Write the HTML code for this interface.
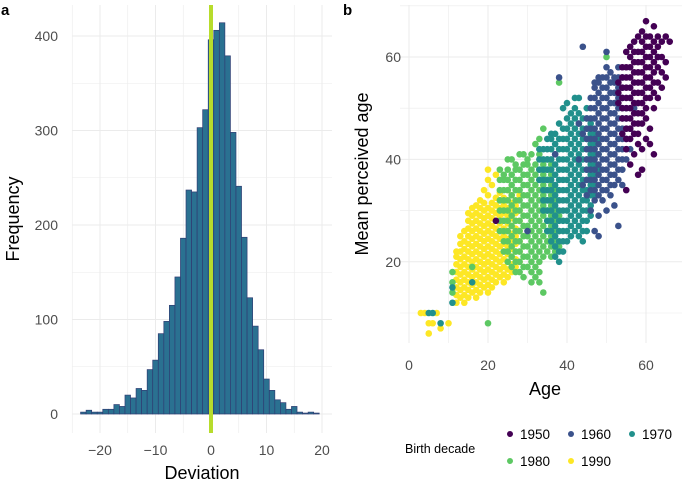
<!DOCTYPE html>
<html><head><meta charset="utf-8"><style>
body{margin:0;background:#fff;}
svg{display:block;font-family:"Liberation Sans",Arial,sans-serif;}
</style></head><body>
<svg id="c" width="685" height="481" viewBox="0 0 685 481">
<g id="pa"></g>
<g id="pb"></g>
</svg>
<script>
// ---------- Panel a data ----------
const binCenters = [-23,-22,-21,-20,-19,-18,-17,-16,-15,-14,-13,-12,-11,-10,-9,-8,-7,-6,-5,-4,-3,-2,-1,0,1,2,3,4,5,6,7,8,9,10,11,12,13,14,15,16,17,18,19];
const binCounts = [2,4,2,2,5,5,10,8,20,17,27,25,47,57,85,98,115,145,186,237,235,303,322,396,406,414,379,298,241,187,123,93,68,37,25,15,12,5,8,2,1,2,1];
const devTicks = [-20,-10,0,10,20];
const freqTicks = [0,100,200,300,400];
const refLine = 0;

// ---------- Panel b data ----------
const decades = ["1950","1960","1970","1980","1990"];
const decadeColors = ["#440154","#3B528B","#21908C","#5DC863","#FDE725"];
const ageTicks = [0,20,40,60];
const percTicks = [20,40,60];
// [age, [perceived ages...]]
const d1990 = [[3,[10]],[4,[10]],[5,[8,6]],[6,[8]],[7,[10]],[8,[7]],[10,[8]],
[12,[12,13.5,15,16.5,18,19.5,21,22]],[13,[13,14.5,16,17.5,19,20.5,22,23.5,25]],[14,[12,13.5,15,16.5,18,19.5,21,22.5,24,26]],
[15,[13,14.5,16,17.5,19,20.5,22,23.5,25,26.5,28,29.5]],[16,[14,15.5,17,18.5,20,21.5,23,24.5,26,27.5,29,30.5]],[17,[13,14.5,16,17.5,19,20.5,22,23.5,25,26.5,28,29.5,31]],
[18,[14,15.5,17,18.5,20,21.5,23,24.5,26,27.5,29,30.5,32]],[19,[15,16.5,18,19.5,21,22.5,24,25.5,27,28.5,30,31.5,34]],[20,[14,15.5,17,18.5,20,21.5,23,24.5,26,27.5,29,30.5,33,36,38]],
[21,[15,16.5,18,19.5,21,22.5,24,25.5,27,28.5,30,31.5,35]],[22,[16,17.5,19,20.5,22,23.5,25,26.5,28,29.5,31,32.5,37]],[23,[17,18.5,20,21.5,23,24.5,26,27.5,29,30.5,32,33.5]],
[24,[16,17.5,19,20.5,22,23.5,25,26.5,28,29.5,31,32.5]],[25,[17,18.5,20,21.5,23,24.5,26,27.5,29,30.5,32,34]],[26,[18,19.5,21,22.5,24,25.5,27,28.5,30,31.5,33]],
[27,[19,20.5,22,23.5,25,26.5,28,29.5,31]],[28,[20,22,24,26,28,30,33]]];
const d1980 = [[11,[14,16,18]],[16,[19]],[20,[8]],[23,[26,28,30,32,34,36,38]],[24,[22,24,26,28,30,32,34,36,37]],
[25,[20,22,24,26,28,30,32,34,36,38,40]],[26,[19,21,23,25,27,29,31,33,35,37,40]],[27,[18,20,22,24,26,28,30,32,34,36,38,39]],
[28,[18,20,22,24,26,28,30,32,34,36,38,41]],[29,[17,19,21,23,25,27,29,31,33,35,37,39,41]],[30,[19,21,23,25,27,29,31,33,35,37,39,40]],
[31,[16,18,20,22,24,26,28,30,32,34,36,38,41]],[32,[17,19,21,23,25,27,29,31,33,35,37,39,43]],[33,[16,18,20,22,24,26,28,30,32,34,36,38,41,44]],
[34,[14,21,23,25,27,29,31,33,35,37,39,46]],[35,[22,24,26,28,30,32,34,36,38,40]],[36,[21,23,25,27,29,31,33,35,37,39]],
[37,[22,24,26,28,30,32,34]],[38,[23,26,29,55]],[50,[60]]];
const d1970 = [[5,[10]],[6,[10]],[8,[8]],[11,[12,15]],[16,[16]],[33,[36,38,40,42]],[34,[30,32,34,36,38,40,42]],
[35,[26,28,30,32,34,36,38,40,42,44]],[36,[24,26,28,30,32,34,36,38,40,42,44,45]],[37,[21,23,25,27,29,31,33,35,37,39,41,43,45]],
[38,[20,22,24,26,28,30,32,34,36,38,40,42,44,47]],[39,[22,24,26,28,30,32,34,36,38,40,42,44,46,50]],[40,[24,26,28,30,32,34,36,38,40,42,44,46,48,51]],
[41,[25,27,29,31,33,35,37,39,41,43,45,47,49]],[42,[26,28,30,32,34,36,38,40,42,44,46,48,50,52]],[43,[25,27,29,31,33,35,37,39,41,43,45,47,49,52]],
[44,[24,26,28,30,32,34,36,38,40,42,44,46,48]],[45,[26,28,30,32,34,36,38,40,42,44,46,48,50]],[46,[29,31,33,35,37,39,41,43,45,47]],
[47,[33,35,37,39,41,43,45]],[48,[38,41,44]]];
const d1960 = [[30,[26]],[37,[41]],[38,[56]],[43,[40,47]],[44,[35,45,62]],[45,[33,36,38,40,42,44,46,48]],
[46,[30,34,36,38,40,42,44,46,48,50,52]],[47,[26,32,34,36,38,40,42,44,46,48,50,52,54,55]],[48,[25,29,33,35,37,39,41,43,45,47,49,51,53,55,56]],
[49,[32,34,36,38,40,42,44,46,48,50,52,54,56]],[50,[30,34,36,38,40,42,44,46,48,50,52,54,56,58,61]],[51,[33,35,37,39,41,43,45,47,49,51,53,55,57]],
[52,[31,35,37,39,41,43,45,47,49,51,53,55,56]],[53,[27,36,38,40,42,44,46,48,50,52,54,56,58]],[54,[35,38,40,42,44,46,48,50,52,54,56]],
[55,[40,42,44,46,48,50]],[56,[42,46,52]],[57,[45,50]],[63,[60]]];
const d1950 = [[22,[28]],[53,[51,53,55]],[54,[45,48,50,52,54,56,58]],[55,[34,42,44,46,48,50,52,54,56,58,61]],
[56,[39,44,46,48,50,52,54,56,58,60,62]],[57,[41,45,47,49,51,53,55,57,59,61,63]],[58,[37,43,45,47,49,51,53,55,57,59,61,64]],
[59,[38,42,47,49,51,53,55,57,59,61,63,65]],[60,[44,48,50,52,54,56,58,60,62,64,67]],[61,[43,46,52,54,56,58,60,62,64]],
[62,[41,50,53,55,57,59,61,63,66]],[63,[52,55,58,60,62,64]],[64,[54,57,60,63]],[65,[56,59,64]],[66,[63]]];

const NS="http://www.w3.org/2000/svg";
function mk(parent,tag,attrs){const e=document.createElementNS(NS,tag);for(const k in attrs)e.setAttribute(k,attrs[k]);parent.appendChild(e);return e;}
function txt(parent,x,y,s,attrs){const t=mk(parent,"text",Object.assign({x:x,y:y},attrs));t.textContent=s;return t;}

// ---------- Panel a ----------
const pa=document.getElementById("pa");
const ax=v=>211+v*5.55, ay=v=>414-v*0.945;
const L=72,R=332,T=5,B=433;
for(let v=-25;v<=20;v+=5){const x=ax(v);if(x<L-1)continue;
 const g=mk(pa,"line",{x1:x,x2:x,y1:T,y2:B,stroke:"#ebebeb","stroke-width":v%10===0?1:0.6});
 
 }
for(let v=0;v<=400;v+=50){const y=ay(v);
 const g=mk(pa,"line",{x1:L,x2:R,y1:y,y2:y,stroke:"#ebebeb","stroke-width":v%100===0?1:0.6});
 
 }
binCenters.forEach((c,i)=>{const x0=ax(c-0.5),x1=ax(c+0.5),y=ay(binCounts[i]);
 const r=mk(pa,"rect",{x:x0,y:y,width:x1-x0,height:414-y,fill:"#2a7191",stroke:"#2f3d73","stroke-width":0.7});
 
 });
const rl=mk(pa,"line",{x1:ax(refLine),x2:ax(refLine),y1:T,y2:B,stroke:"#b7dc2c","stroke-width":4});


devTicks.forEach(v=>{const t=txt(pa,ax(v),455,v<0?"\u2212"+(-v):String(v),{"text-anchor":"middle","font-size":14,fill:"#4d4d4d"});
 
 });
freqTicks.forEach(v=>{const t=txt(pa,58,ay(v)+5,String(v),{"text-anchor":"end","font-size":14,fill:"#4d4d4d"});
 
 });
let t=txt(pa,202,479,"Deviation",{"text-anchor":"middle","font-size":18,fill:"#000"});

t=txt(pa,0,0,"Frequency",{"text-anchor":"middle","font-size":18,fill:"#000",transform:"translate(19,219) rotate(-90)"});

t=txt(pa,1,15,"a",{"font-size":15,"font-weight":"bold",fill:"#000"});


// ---------- Panel b ----------
const pb=document.getElementById("pb");
const bx=v=>409+v*3.95, by=v=>57+(60-v)*5.12;
const BL=400,BR=682,BT=5,BB=343;
for(let v=0;v<=60;v+=10){const x=bx(v);
 const g=mk(pb,"line",{x1:x,x2:x,y1:BT,y2:BB,stroke:"#ebebeb","stroke-width":v%20===0?1:0.6});
 
 }
for(let v=10;v<=70;v+=10){const y=by(v);if(y<BT)continue;
 const g=mk(pb,"line",{x1:BL,x2:BR,y1:y,y2:y,stroke:"#ebebeb","stroke-width":v%20===0?1:0.6});
 
 }
const series=[d1990,d1980,d1970,d1960,d1950];
const seriesColor=[decadeColors[4],decadeColors[3],decadeColors[2],decadeColors[1],decadeColors[0]];
series.forEach((d,si)=>{d.forEach(col=>{col[1].forEach(p=>{
 const c=mk(pb,"circle",{cx:bx(col[0]),cy:by(p),r:3.3,fill:seriesColor[si]});
 
 });});});
ageTicks.forEach(v=>{const t=txt(pb,bx(v),370,String(v),{"text-anchor":"middle","font-size":14,fill:"#4d4d4d"});
 
 });
percTicks.forEach(v=>{const t=txt(pb,401,by(v)+5,String(v),{"text-anchor":"end","font-size":14,fill:"#4d4d4d"});
 
 });
t=txt(pb,545,395,"Age",{"text-anchor":"middle","font-size":18,fill:"#000"});

t=txt(pb,0,0,"Mean perceived age",{"text-anchor":"middle","font-size":18,fill:"#000",transform:"translate(368,174) rotate(-90)"});

t=txt(pb,343,15,"b",{"font-size":15,"font-weight":"bold",fill:"#000"});


// legend
const lg=mk(pb,"g",{});


t=txt(lg,405,453,"Birth decade",{"font-size":12.5,fill:"#000"});

const legPos=[[510,434],[571,434],[632,434],[510,461],[571,461]];
decades.forEach((d,i)=>{const [x,y]=legPos[i];
 const g=mk(lg,"g",{});
 
 
 mk(g,"circle",{cx:x,cy:y,r:3,fill:decadeColors[i]});
 txt(g,x+10,y+5,d,{"font-size":13.5,fill:"#000"});});
</script>
</body></html>
